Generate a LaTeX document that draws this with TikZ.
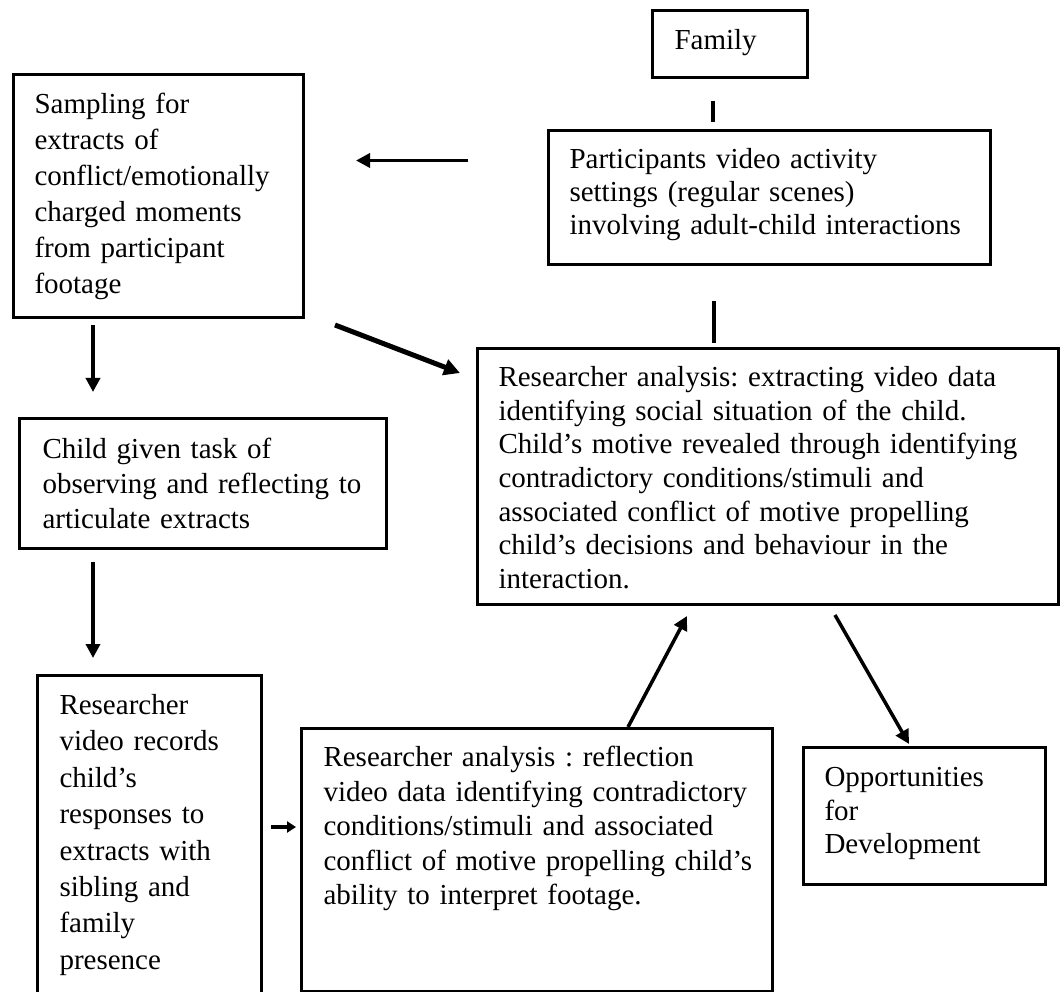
\documentclass[tikz,border=0pt]{standalone}
\usepackage{fontspec}
\setmainfont{Liberation Serif}
\usetikzlibrary{arrows.meta}

\begin{document}
\frenchspacing
\begin{tikzpicture}[->,>={Triangle[length=14pt,width=14pt]},x=1pt,y=-1pt,
                    line width=3.5pt]
  \tikzstyle{stage}=[draw,line width=3pt,anchor=north west,align=left,
                     inner ysep=0pt,inner xsep=21pt,font=\fontsize{29}{35}\selectfont]

  \useasboundingbox (0,0) rectangle (1061,992);
  \clip (0,0) rectangle (1061,992);

  \node[stage,inner xsep=22pt,text width=111pt,text height=39pt,text depth=28pt] (fam) at (651,9) {Family};
  \node[stage,text width=248pt,text height=39pt,text depth=204pt,font=\fontsize{29}{36}\selectfont] (samp) at (12,73)
    {Sampling for\\extracts of\\conflict/emotionally\\charged moments\\from participant\\footage};
  \node[stage,text width=400pt,text height=38pt,text depth=96pt,font=\fontsize{29}{33}\selectfont] (part) at (547,129)
    {Participants video activity\\settings (regular scenes)\\involving adult-child interactions};
  \node[stage,text width=539pt,text height=38pt,text depth=218pt,font=\fontsize{29}{33.7}\selectfont] (big) at (476,347)
    {Researcher analysis: extracting video data\\identifying social situation of the child.\\Child’s motive revealed through identifying\\contradictory conditions/stimuli and\\associated conflict of motive propelling\\child’s decisions and behaviour in the\\interaction.};
  \node[stage,inner xsep=23pt,text width=321pt,text height=40pt,text depth=90pt] (child) at (18,417)
    {Child given task of\\\mbox{observing and reflecting to}\\articulate extracts};
  \node[stage,inner xsep=22pt,text width=180pt,text height=39pt,text depth=287pt,font=\fontsize{29}{36.4}\selectfont] (vid) at (36,674)
    {Researcher\\video records\\child’s\\responses to\\extracts with\\sibling and\\family\\presence};
  \node[stage,inner xsep=22pt,text width=427pt,text height=38pt,text depth=225pt,font=\fontsize{29}{34.5}\selectfont] (refl) at (300,727)
    {Researcher analysis : reflection\\\mbox{video data identifying contradictory}\\conditions/stimuli and associated\\\mbox{conflict of motive propelling child’s}\\ability to interpret footage.};
  \node[stage,text width=200pt,text height=39pt,text depth=98pt,font=\fontsize{29}{33.5}\selectfont] (opp) at (802,746)
    {Opportunities\\for\\Development};

  \path ([xshift=62pt]fam.south west) edge[-,line width=4pt,shorten <=22pt,shorten >=7pt] ([xshift=166pt]part.north west)
        ([yshift=37pt]part.west) edge[shorten <=79pt,shorten >=51pt] ([yshift=35.5pt]samp.east)
        ([xshift=167pt]part.south west) edge[-,line width=4pt,shorten <=35pt,shorten >=4pt] ([xshift=238pt]big.north west)
        ([xshift=30pt,yshift=-6pt]samp.south east) edge[line width=5pt,>={Triangle[length=16pt,width=16pt]}] ([xshift=-16pt,yshift=-26pt]big.north west)
        ([xshift=81pt,yshift=-6pt]samp.south west) edge ([xshift=75pt,yshift=25pt]child.north west)
        ([xshift=75pt,yshift=-12pt]child.south west) edge ([xshift=57pt,yshift=16pt]vid.north west)
        ([xshift=8pt,yshift=-153pt]vid.north east) edge[>={Triangle[length=9pt,width=11pt]}] ([xshift=-4pt,yshift=-100pt]refl.north west)
        ([xshift=328pt]refl.north west) edge ([xshift=211pt,yshift=-10pt]big.south west)
        ([xshift=359pt,yshift=-9pt]big.south west) edge ([xshift=107pt,yshift=2pt]opp.north west);
\end{tikzpicture}
\end{document}
